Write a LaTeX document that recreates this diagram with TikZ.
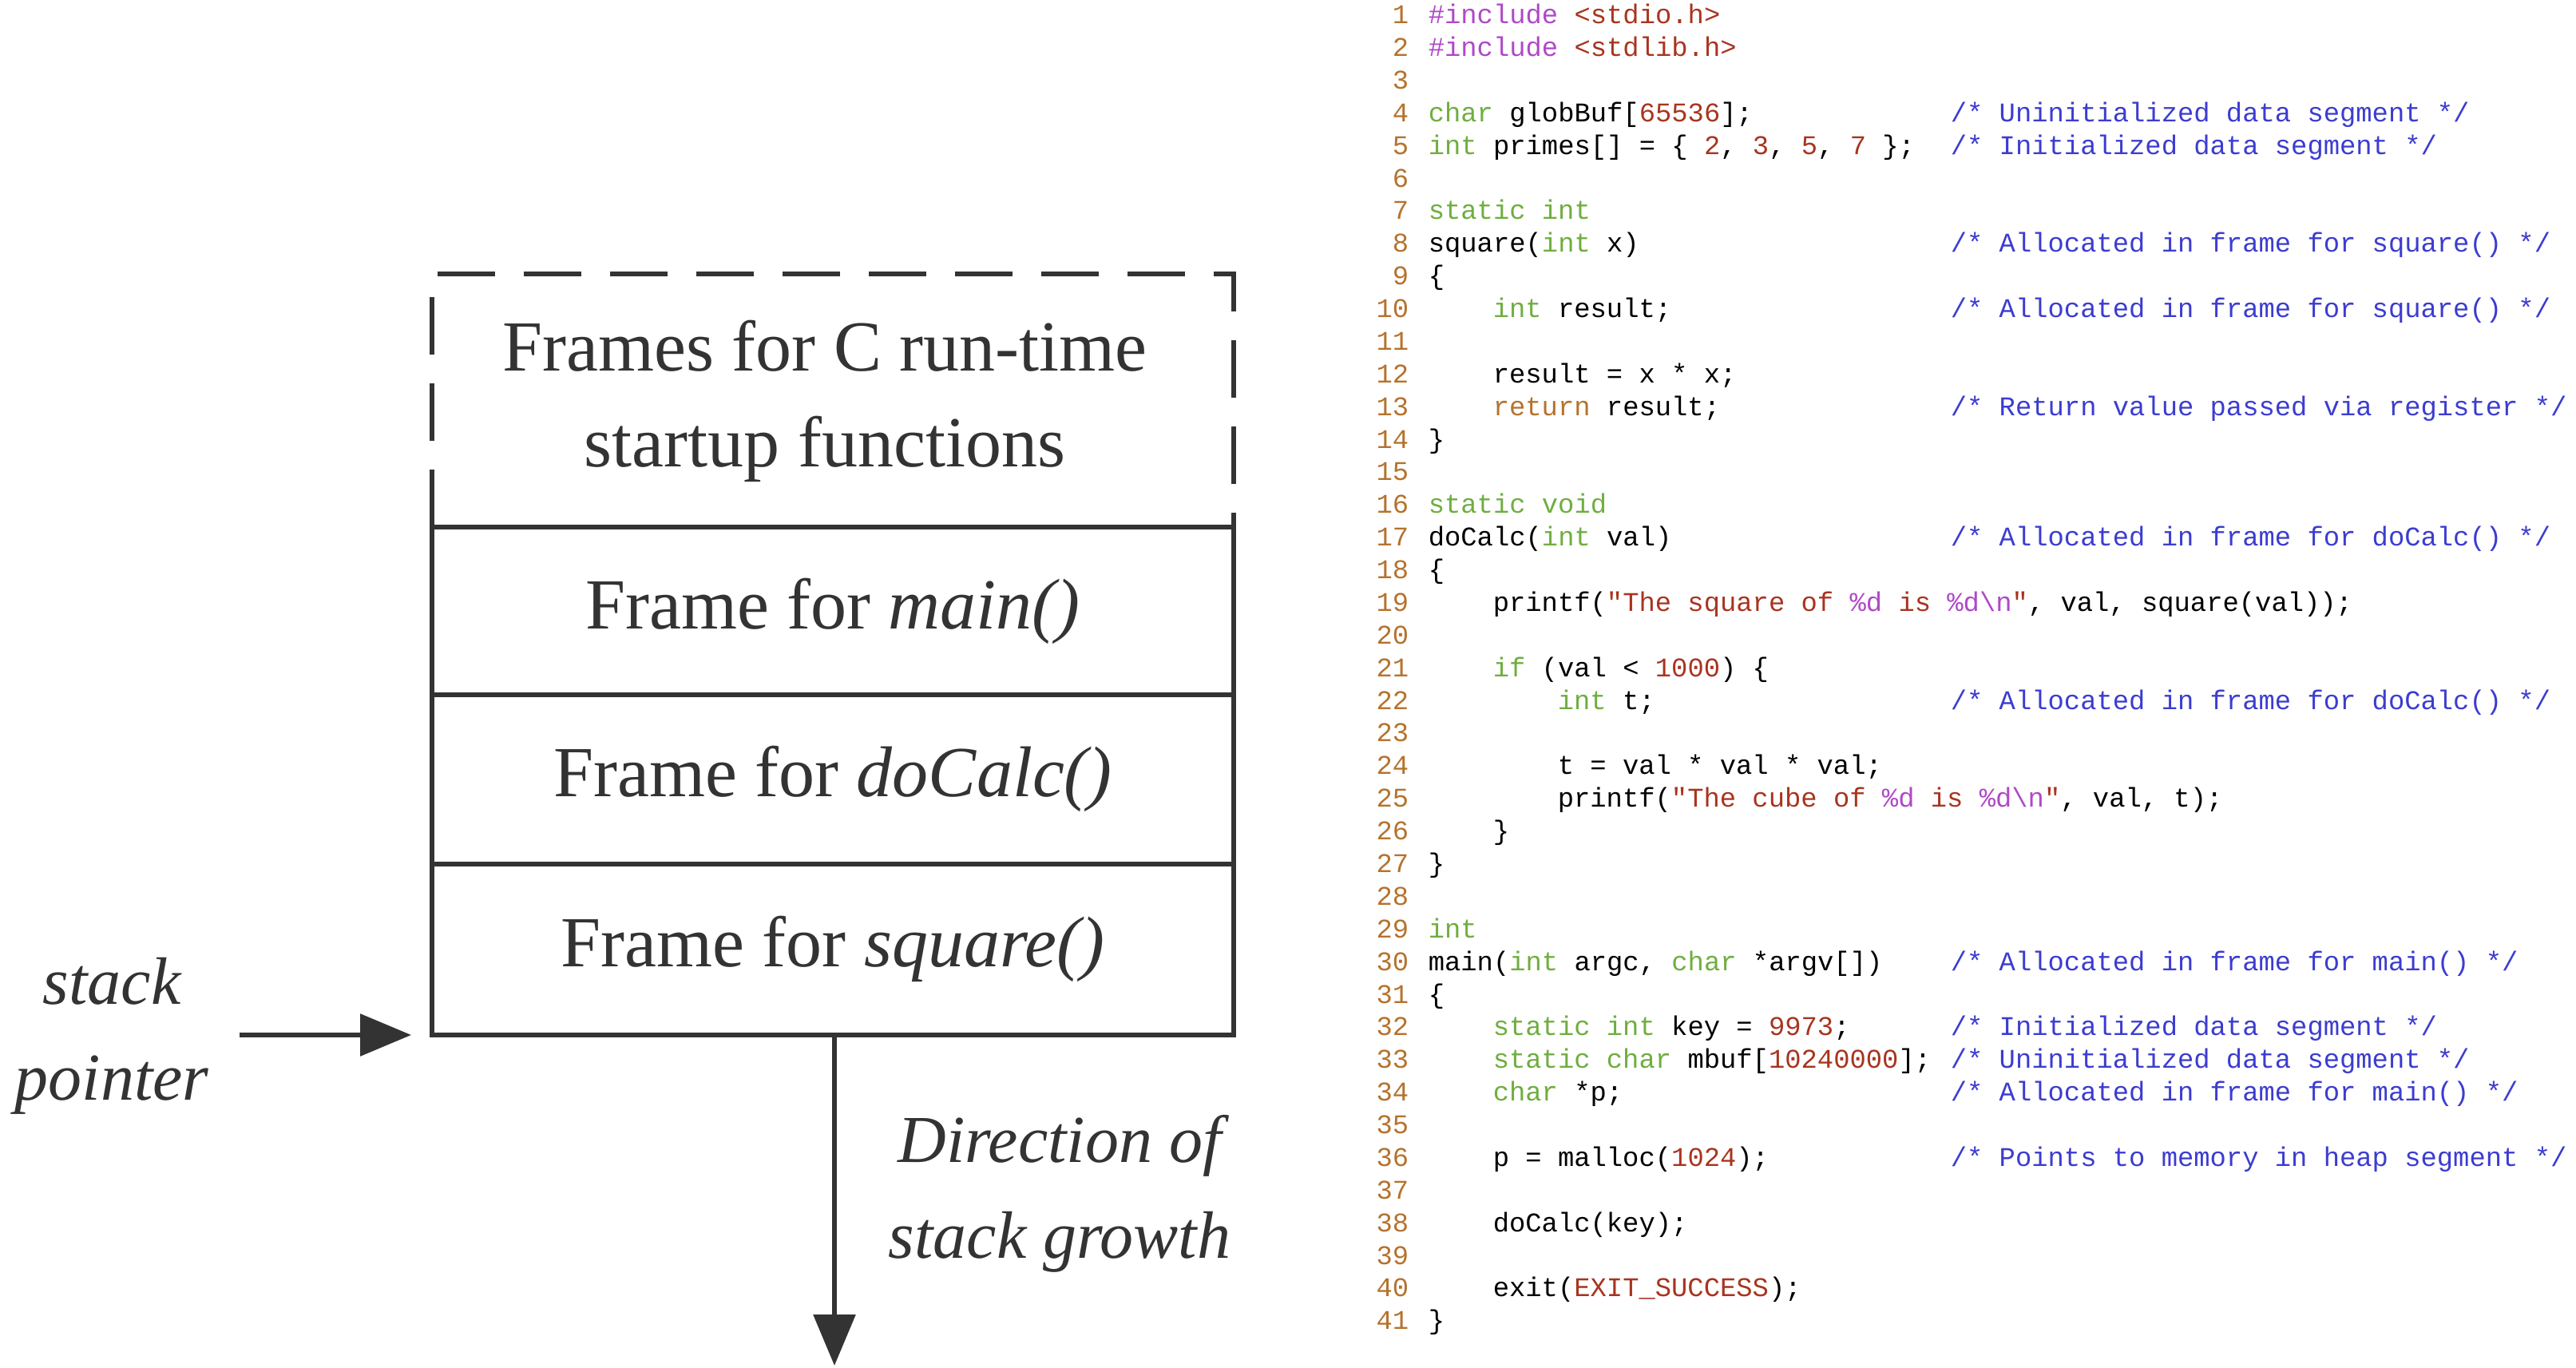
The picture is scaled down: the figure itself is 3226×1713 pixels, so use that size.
\documentclass[tikz,border=0pt]{standalone}
\usepackage{fontspec}
\setmonofont{Liberation Mono}
\newfontfamily\serf{Liberation Serif}
\usetikzlibrary{arrows.meta}
\definecolor{ln}{HTML}{B5722D}
\definecolor{kw}{HTML}{6FAE3F}
\definecolor{pp}{HTML}{B048C8}
\definecolor{st}{HTML}{A8341F}
\definecolor{cm}{HTML}{3C3CD0}
\definecolor{ink}{HTML}{333333}
\newcommand{\cK}[1]{\textcolor{kw}{#1}}
\newcommand{\cP}[1]{\textcolor{pp}{#1}}
\newcommand{\cS}[1]{\textcolor{st}{#1}}
\newcommand{\cR}[1]{\textcolor{ln}{#1}}
\begin{document}
\begin{tikzpicture}[x=0.25pt,y=-0.25pt,
  big/.style={font=\serf\fontsize{22.5}{26}\selectfont, text=ink, inner sep=0pt},
  side/.style={font=\serf\fontsize{21}{24}\selectfont\itshape, text=ink, inner sep=0pt},
  frm/.style={draw=ink, line width=1.5pt},
  arr/.style={ink, line width=1.5pt, -{Triangle[length=16pt,width=13pt]}},
  code/.style={anchor=base west, inner sep=0pt, font=\fontsize{8.46}{10}\ttfamily},
  num/.style={anchor=base east, inner sep=0pt, text=ln, font=\fontsize{8.46}{10}\ttfamily},
  cmt/.style={anchor=base west, inner sep=0pt, text=cm, font=\fontsize{8.46}{10}\ttfamily}]
\useasboundingbox (0,0) rectangle (3226,1713);
% stack diagram
\coordinate (tl) at (541,343);
\coordinate (tr) at (1545,343);
\coordinate (ml) at (541,660);
\coordinate (mr) at (1545,660);
\coordinate (al) at (541,870);
\coordinate (ar) at (1545,870);
\coordinate (bl) at (541,1082);
\coordinate (br) at (1545,1082);
\coordinate (el) at (541,1296);
\coordinate (er) at (1545,1296);
\draw[ink, line width=1.5pt, dash pattern=on 18pt off 9pt] (ml) -- (tl) -- (tr) -- (mr);
\draw[frm] (ml) rectangle (er);
\draw[frm] (al) -- (ar);
\draw[frm] (bl) -- (br);
\node[big, align=center] (rt) at (1033,502) {Frames for C run-time\\[4pt]startup functions};
\node[big] (fm) at (1043,765) {Frame for \textit{main()}};
\node[big] (fd) at (1043,975) {Frame for \textit{doCalc()}};
\node[big] (fs) at (1043,1188) {Frame for \textit{square()}};
\node[side, align=center] (sp) at (140,1297) {stack\\[6pt]pointer};
\coordinate (spa) at (300,1296);
\coordinate (spb) at (515,1296);
\draw[arr] (spa) -- (spb);
\coordinate (dtop) at (1045,1296);
\coordinate (dbot) at (1045,1710);
\draw[arr] (dtop) -- (dbot);
\node[side, align=center] (dir) at (1327,1495) {Direction of\\[6pt]stack growth};
% code
\foreach \n in {1,...,41} {
  \node[num] (n\n) at (1765,{20.6+40.88*(\n-1)+9}) {\n};
}
\def\cx{1788}
\def\cc{2442}
\def\ind{81}
\newcommand{\cl}[3]{\node[code] (c#1) at ({\cx+#2*\ind},{20.6+40.88*(#1-1)+9}) {#3};}
\newcommand{\cmnt}[2]{\node[cmt] (m#1) at (\cc,{20.6+40.88*(#1-1)+9}) {#2};}
\cl{1}{0}{\cP{\#include} \cS{<stdio.h>}}
\cl{2}{0}{\cP{\#include} \cS{<stdlib.h>}}
\cl{4}{0}{\cK{char} globBuf[\cS{65536}];}
\cmnt{4}{/* Uninitialized data segment */}
\cl{5}{0}{\cK{int} primes[] = \{ \cS{2}, \cS{3}, \cS{5}, \cS{7} \};}
\cmnt{5}{/* Initialized data segment */}
\cl{7}{0}{\cK{static int}}
\cl{8}{0}{square(\cK{int} x)}
\cmnt{8}{/* Allocated in frame for square() */}
\cl{9}{0}{\{}
\cl{10}{1}{\cK{int} result;}
\cmnt{10}{/* Allocated in frame for square() */}
\cl{12}{1}{result = x * x;}
\cl{13}{1}{\cR{return} result;}
\cmnt{13}{/* Return value passed via register */}
\cl{14}{0}{\}}
\cl{16}{0}{\cK{static void}}
\cl{17}{0}{doCalc(\cK{int} val)}
\cmnt{17}{/* Allocated in frame for doCalc() */}
\cl{18}{0}{\{}
\cl{19}{1}{printf(\cS{"The square of }\cP{\%d}\cS{\ is\ }\cP{\%d\textbackslash n}\cS{"}, val, square(val));}
\cl{21}{1}{\cK{if} (val < \cS{1000}) \{}
\cl{22}{2}{\cK{int} t;}
\cmnt{22}{/* Allocated in frame for doCalc() */}
\cl{24}{2}{t = val * val * val;}
\cl{25}{2}{printf(\cS{"The cube of }\cP{\%d}\cS{\ is\ }\cP{\%d\textbackslash n}\cS{"}, val, t);}
\cl{26}{1}{\}}
\cl{27}{0}{\}}
\cl{29}{0}{\cK{int}}
\cl{30}{0}{main(\cK{int} argc, \cK{char} *argv[])}
\cmnt{30}{/* Allocated in frame for main() */}
\cl{31}{0}{\{}
\cl{32}{1}{\cK{static int} key = \cS{9973};}
\cmnt{32}{/* Initialized data segment */}
\cl{33}{1}{\cK{static char} mbuf[\cS{10240000}];}
\cmnt{33}{/* Uninitialized data segment */}
\cl{34}{1}{\cK{char} *p;}
\cmnt{34}{/* Allocated in frame for main() */}
\cl{36}{1}{p = malloc(\cS{1024});}
\cmnt{36}{/* Points to memory in heap segment */}
\cl{38}{1}{doCalc(key);}
\cl{40}{1}{exit(\cS{EXIT\_SUCCESS});}
\cl{41}{0}{\}}
\end{tikzpicture}
\end{document}
